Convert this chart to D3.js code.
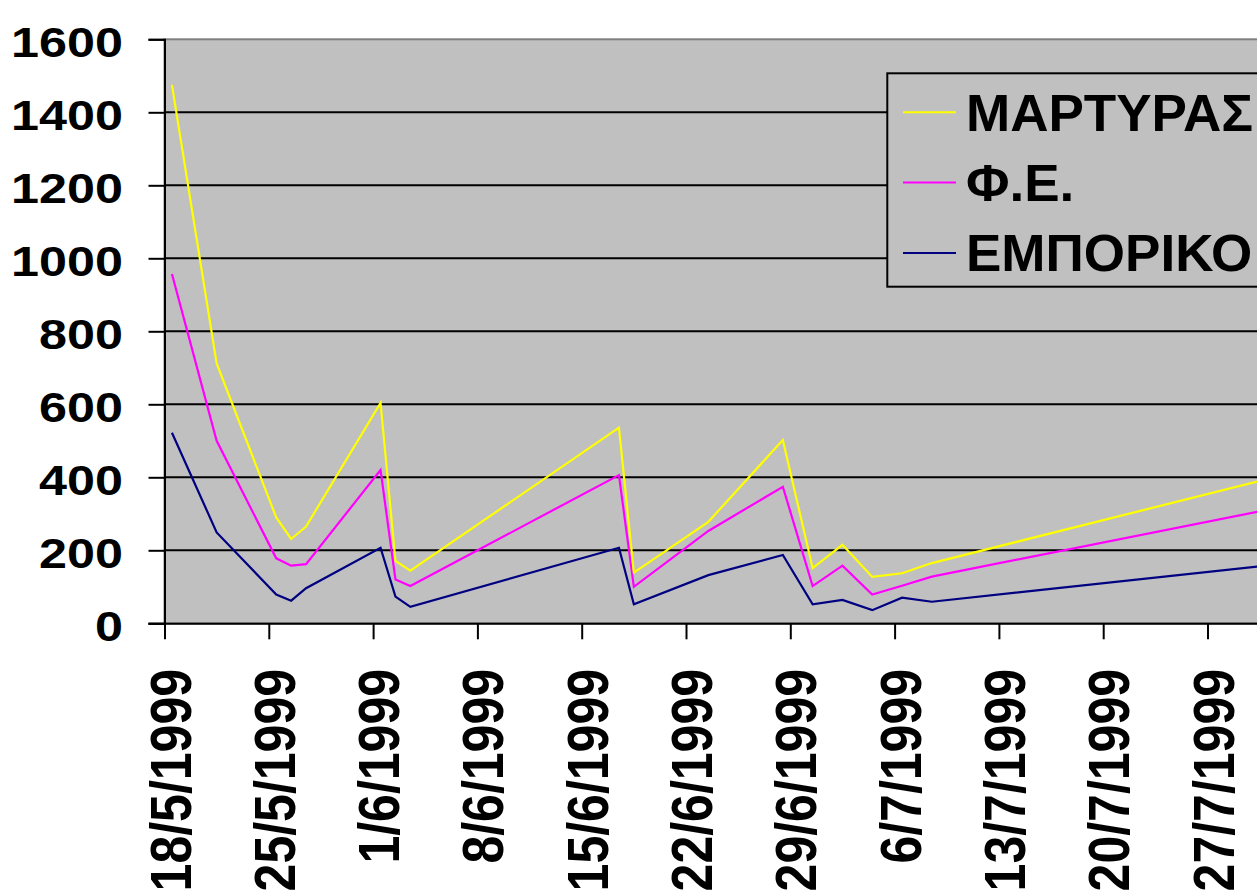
<!DOCTYPE html>
<html><head><meta charset="utf-8">
<script src="https://cdn.jsdelivr.net/npm/d3@7"></script>
<style>html,body{margin:0;padding:0;background:#fff;overflow:hidden}svg{display:block}</style>
</head><body><svg id="c" width="1257" height="895"></svg>
<script>
const dates = ["18/5/1999","21/5/1999","25/5/1999","26/5/1999","27/5/1999","1/6/1999","2/6/1999","3/6/1999","17/6/1999","18/6/1999","23/6/1999","28/6/1999","30/6/1999","2/7/1999","4/7/1999","6/7/1999","8/7/1999","30/7/1999"];
const martyras = [1475,712,290,231,265,604,171,144,536,139,278,502,151,215,127,137,165,390];
const fe       = [957,500,178,158,162,420,120,102,406,100,253,374,102,158,79,103,128,307];
const emporiko = [522,249,79,62,96,207,73,45,207,52,132,187,52,64,36,70,59,156];
const seriesNames = ["ΜΑΡΤΥΡΑΣ","Φ.Ε.","ΕΜΠΟΡΙΚΟ"];
const seriesColors = ["#FFFF00","#FF00FF","#000080"];
const xTickLabels = ["18/5/1999","25/5/1999","1/6/1999","8/6/1999","15/6/1999","22/6/1999","29/6/1999","6/7/1999","13/7/1999","20/7/1999","27/7/1999"];
const yTicks = [0,200,400,600,800,1000,1200,1400,1600];

const parse = s => { const [d,m,y] = s.split("/").map(Number); return new Date(Date.UTC(y,m-1,d)); };
const svg = d3.select("#c");
const FONT = "'Liberation Sans', Arial, sans-serif";
const L = 164.5, T = 39.3, B = 623.3, dayPx = 14.9;
const start = parse("18/5/1999");
const end = d3.utcDay.offset(start, 77);
const x = d3.scaleUtc().domain([start, end]).range([L, L + 77*dayPx]);
const y = d3.scaleLinear().domain([0,1600]).range([B, T]);
const mid = d => d3.utcHour.offset(parse(d), 12);

// plot area
svg.append("rect").attr("x", L).attr("y", T).attr("width", 1300 - L).attr("height", B - T)
  .attr("fill", "#C0C0C0").attr("stroke", "#808080").attr("stroke-width", 2);

// gridlines
svg.append("g").selectAll("line").data(yTicks.filter(v => v > 0 && v < 1600)).join("line")
  .attr("x1", L).attr("x2", 1300).attr("y1", d => y(d)).attr("y2", d => y(d))
  .attr("stroke", "#000").attr("stroke-width", 2);

// y axis
const yAxis = svg.append("g").attr("transform", `translate(${L},0)`)
  .call(d3.axisLeft(y).tickValues(yTicks).tickSize(16).tickFormat(""));
yAxis.select(".domain").attr("stroke", "#000").attr("stroke-width", 2);
yAxis.selectAll(".tick line").attr("stroke", "#000").attr("stroke-width", 2);
svg.append("g").selectAll("text").data(yTicks).join("text")
  .attr("transform", d => `translate(123,${y(d) + 17.4}) scale(1.17,1)`)
  .attr("text-anchor", "end").attr("font-family", FONT).attr("font-weight", "bold")
  .attr("font-size", 43).attr("fill", "#000").text(d => d);

// x axis
const xAxis = svg.append("g").attr("transform", `translate(0,${B})`)
  .call(d3.axisBottom(x).tickValues(xTickLabels.map(parse)).tickSize(16).tickSizeOuter(0).tickFormat(""));
xAxis.select(".domain").attr("stroke", "#000").attr("stroke-width", 2).attr("d", `M${L-16},0.5H1300`);
xAxis.selectAll(".tick line").attr("stroke", "#000").attr("stroke-width", 2);
svg.append("g").selectAll("text").data(xTickLabels).join("text")
  .attr("transform", d => `translate(${x(parse(d)) + 26},669) scale(1.14,1) rotate(-90)`)
  .attr("text-anchor", "end").attr("font-family", FONT).attr("font-weight", "bold")
  .attr("font-size", 50).attr("fill", "#000").text(d => d);

// lines
const allSeries = [martyras, fe, emporiko];
const line = d3.line().x(d => x(mid(d.date))).y(d => y(d.v));
[2,1,0].forEach(i => {
  const data = dates.map((dt, j) => ({date: dt, v: allSeries[i][j]}));
  svg.append("path").datum(data).attr("d", line).attr("fill", "none")
    .attr("stroke", seriesColors[i]).attr("stroke-width", 2.2).attr("stroke-linejoin", "miter");
});

// legend
const lg = svg.append("g");
lg.append("rect").attr("x", 887.3).attr("y", 73.3).attr("width", 400).attr("height", 213.4)
  .attr("fill", "#C0C0C0").attr("stroke", "#000").attr("stroke-width", 2);
seriesNames.forEach((n, i) => {
  const by = 130.7 + i * 70.3;
  lg.append("line").attr("x1", 903).attr("x2", 956).attr("y1", by - 18.4).attr("y2", by - 18.4)
    .attr("stroke", seriesColors[i]).attr("stroke-width", 2);
  lg.append("text").attr("transform", `translate(966,${by}) scale(1.04,1)`).attr("font-family", FONT).attr("font-weight", "bold")
    .attr("font-size", 51).attr("fill", "#000").text(n);
});
</script></body></html>
